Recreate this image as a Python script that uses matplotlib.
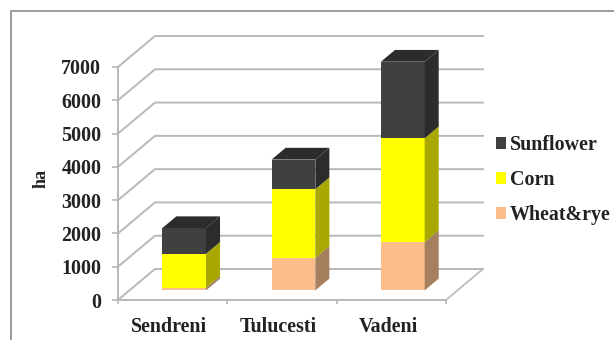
import matplotlib
matplotlib.use("Agg")
import matplotlib.pyplot as plt
from matplotlib.lines import Line2D
from matplotlib.patches import Patch, Polygon

plt.rcParams["font.family"] = ["Liberation Serif", "DejaVu Serif"]
plt.rcParams["font.weight"] = "bold"

categories = ["Sendreni", "Tulucesti", "Vadeni"]
wheat_rye = [80, 980, 1450]
corn = [1020, 2060, 3120]
sunflower = [770, 890, 2300]
y_ticks = [0, 1000, 2000, 3000, 4000, 5000, 6000, 7000]

series = [
    ("Wheat&rye", wheat_rye, "#fbbd8c", "#a67f5f"),
    ("Corn", corn, "#ffff00", "#a8a800"),
    ("Sunflower", sunflower, "#404040", "#2c2c2c"),
]

W, H = 614, 340
GRID = "#b8b8b8"
TEXT = "#222222"
FONT_SIZE = 14.4

fig = plt.figure(figsize=(W / 100, H / 100), dpi=100, facecolor="white")
ax = fig.add_axes([118 / W, 40 / H, 328 / W, 233 / H])
ax.set_xlim(0, 3)
ax.set_ylim(0, 7000)
ax.patch.set_visible(False)

# Depth of the box and of the bars, in data units
depth_x, depth_y = 0.338, 931
bar_width = 0.40
bar_depth = 0.38
bar_front = 0.31

# Walls and floor of the 3D box
for v in y_ticks:
    ax.plot([0, depth_x, 3 + depth_x], [v, v + depth_y, v + depth_y],
            color=GRID, lw=1.4, clip_on=False, zorder=1, solid_joinstyle="miter")
ax.plot([3, 3 + depth_x], [0, depth_y], color=GRID, lw=1.2, clip_on=False, zorder=1)

# Stacked bars: front faces through bar(), side and top faces as polygons
bottoms = [0] * len(categories)
for name, values, face, side in series:
    for i, value in enumerate(values):
        x0 = i + 0.5 - bar_width / 2 + bar_front * depth_x
        x1 = x0 + bar_width
        y0 = bottoms[i] + bar_front * depth_y
        y1 = y0 + value
        sx = bar_depth * depth_x
        sy = bar_depth * depth_y
        ax.bar(x0, value, width=bar_width, bottom=y0, align="edge",
               color=face, lw=0, zorder=3, clip_on=False)
        ax.add_patch(Polygon([(x1, y0), (x1 + sx, y0 + sy), (x1 + sx, y1 + sy), (x1, y1)],
                             closed=True, fc=side, lw=0, zorder=3, clip_on=False))
        if name == "Sunflower":
            ax.add_patch(Polygon([(x0, y1), (x0 + sx, y1 + sy), (x1 + sx, y1 + sy), (x1, y1)],
                                 closed=True, fc=side, lw=0, zorder=3, clip_on=False))
        bottoms[i] += value

for spine in ("top", "right"):
    ax.spines[spine].set_visible(False)
for spine in ("left", "bottom"):
    ax.spines[spine].set_color(GRID)
    ax.spines[spine].set_linewidth(1.4)

ax.set_yticks(y_ticks)
ax.set_yticklabels([str(v) for v in y_ticks], fontsize=FONT_SIZE, color=TEXT)
ax.set_xticks([0, 1, 2, 3])
ax.set_xticklabels([])
ax.set_xticks([0.47, 1.47, 2.47], labels=categories, minor=True, fontsize=FONT_SIZE, color=TEXT)
ax.tick_params(axis="y", length=4, width=1.2, color=GRID, pad=8)
ax.tick_params(axis="x", which="major", length=3, width=1.2, color=GRID)
ax.tick_params(axis="x", which="minor", length=0, pad=12)
fig.text(41 / W, 1 - 179 / H, "ha", rotation=90, ha="center", va="center",
         fontsize=13, color=TEXT)

# Legend reads top-down from the last stacked series
handles = [Patch(fc=face, lw=0, label=name) for name, _, face, _ in reversed(series)]
fig.legend(handles=handles, loc="center left", bbox_to_anchor=(496 / W, 1 - 180 / H),
           frameon=False, fontsize=FONT_SIZE, labelcolor=TEXT, handlelength=0.48,
           handleheight=0.55, handletextpad=0.22, labelspacing=0.76,
           borderpad=0, borderaxespad=0)

# Outer frame, open on the right and at the bottom
fig.add_artist(Line2D([11 / W, 11 / W, 1], [0, 1 - 11 / H, 1 - 11 / H],
                      color="#9a9a9a", lw=1.4, transform=fig.transFigure))

fig.savefig("out.png", dpi=100)
